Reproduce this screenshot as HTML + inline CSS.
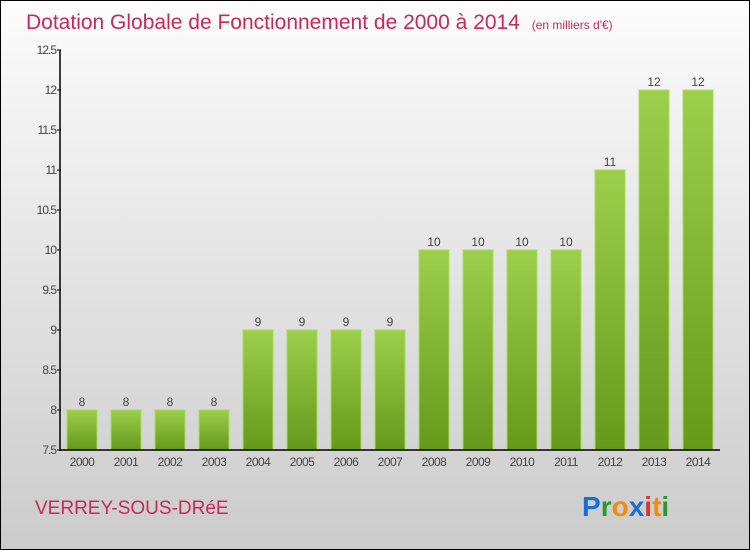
<!DOCTYPE html>
<html><head><meta charset="utf-8"><style>
body{margin:0}
#wrap{width:750px;height:550px;position:relative;box-sizing:border-box;border:1px solid #000;background:linear-gradient(#fcfcfc,#cbcbcb);font-family:"Liberation Sans",sans-serif;overflow:hidden}
</style></head><body>
<div id="wrap">
<svg id="chart" width="750" height="550" style="position:absolute;left:-1px;top:-1px">
<defs><linearGradient id="g" x1="0" y1="0" x2="0" y2="1"><stop offset="0" stop-color="#9ccf4c"/><stop offset="1" stop-color="#64991a"/></linearGradient></defs>
<text x="26" y="29" font-size="21" fill="#c8285a">Dotation Globale de Fonctionnement de 2000 à 2014 <tspan font-size="12" dx="6">(en milliers d'€)</tspan></text>
<text x="35" y="514" font-size="19" fill="#c8285a">VERREY-SOUS-DRéE</text>
<text x="582" y="516" font-size="28" font-weight="bold"><tspan fill="#1a6fd0">P</tspan><tspan fill="#2a9a2a">r</tspan><tspan fill="#f08a10">o</tspan><tspan fill="#1a6fd0">x</tspan><tspan fill="#e03030">i</tspan><tspan fill="#f08a10">t</tspan><tspan fill="#2a9a2a">i</tspan></text>
<g id="plot"></g>
</svg>
</div>
<script>
const years=["2000","2001","2002","2003","2004","2005","2006","2007","2008","2009","2010","2011","2012","2013","2014"];
const values=[8,8,8,8,9,9,9,9,10,10,10,10,11,12,12];
const ticks=[7.5,8,8.5,9,9.5,10,10.5,11,11.5,12,12.5];
const ns="http://www.w3.org/2000/svg";
const g=document.getElementById('plot');
const y=v=>450-(v-7.5)*80;
const x=i=>82+i*44;
function mk(t,a){const e=document.createElementNS(ns,t);for(const k in a)e.setAttribute(k,a[k]);g.appendChild(e);return e;}
ticks.forEach(t=>{
 const l=mk('line',{x1:57,x2:61,y1:y(t),y2:y(t),stroke:'#000'});
 
 
 const tx=mk('text',{x:56,y:y(t)+4,'font-size':12,fill:'#444','text-anchor':'end','letter-spacing':'-1'});
 tx.textContent=String(t);
 
 
});
values.forEach((v,i)=>{
 const r=mk('rect',{x:x(i)-15,y:y(v),width:30,height:450-y(v),fill:'url(#g)',stroke:'#a8dc5a','stroke-width':1});
 
 
 const lb=mk('text',{x:x(i),y:y(v)-4,'font-size':12,fill:'#444','text-anchor':'middle'});
 lb.textContent=String(v);
 
 
 const xl=mk('text',{x:x(i),y:466,'font-size':12,fill:'#444','text-anchor':'middle','letter-spacing':'-0.5'});
 xl.textContent=years[i];
 
 
});
const ya=mk('line',{x1:60,x2:60,y1:50,y2:451,stroke:'#000','stroke-width':1.5});


const xa=mk('line',{x1:60,x2:720,y1:450,y2:450,stroke:'#000','stroke-width':1.5});


</script>
</body></html>
